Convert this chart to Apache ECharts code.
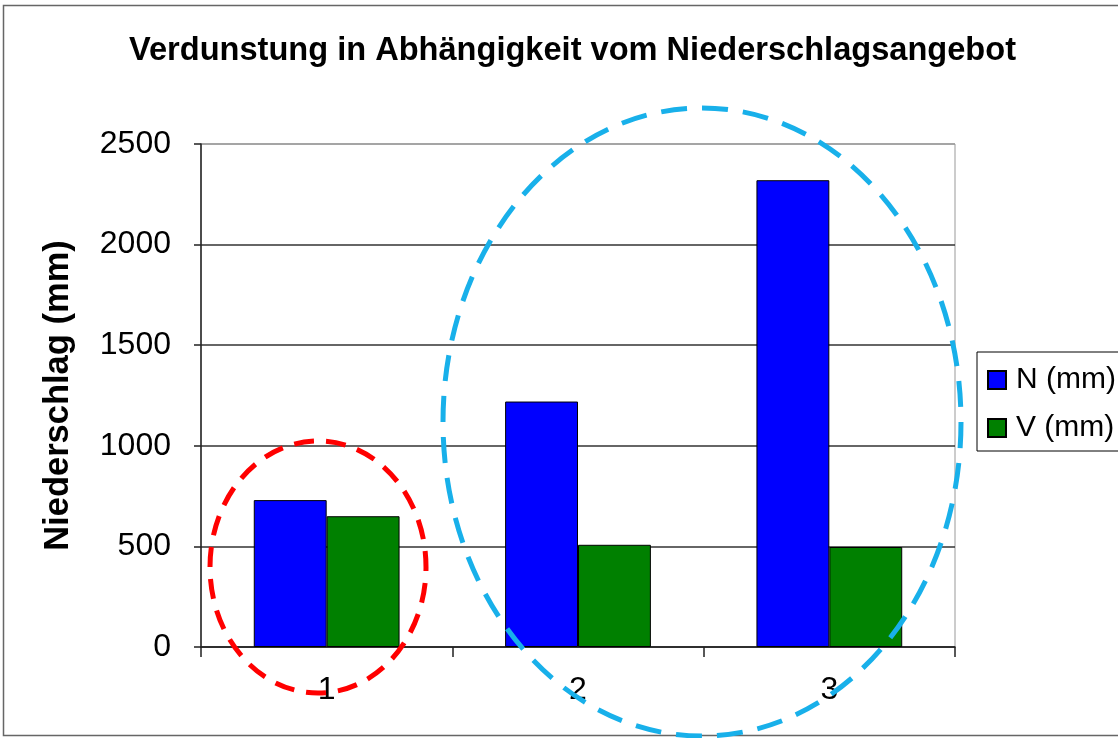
<!DOCTYPE html>
<html>
<head>
<meta charset="utf-8">
<script src="https://cdn.jsdelivr.net/npm/echarts@6/dist/echarts.min.js"></script>
<style>html,body{margin:0;padding:0;background:#fff;}#c{width:1118px;height:738px;}</style>
</head>
<body>
<div id="c"></div>
<script>
var categories = ['1', '2', '3'];
var seriesN = [730, 1220, 2320];
var seriesV = [650, 508, 497];
var seriesNames = ['N (mm)', 'V (mm)'];
var yTicks = { min: 0, max: 2500, interval: 500 };

var FONT = '"Liberation Sans", Arial, sans-serif';
var chart = echarts.init(document.getElementById('c'), null, { renderer: 'canvas' });
chart.setOption({
  animation: false,
  backgroundColor: '#fff',
  title: {
    text: 'Verdunstung in Abhängigkeit vom Niederschlagsangebot',
    left: 124, top: 30,
    textStyle: { fontFamily: FONT, fontSize: 32.6, fontWeight: 'bold', color: '#000' }
  },
  legend: {
    orient: 'vertical', left: 977, top: 352,
    padding: [13, 12, 8, 10],
    borderColor: '#000', borderWidth: 1,
    itemWidth: 18, itemHeight: 18, itemGap: 18, icon: 'rect',
    textStyle: { fontFamily: FONT, fontSize: 30, color: '#000', lineHeight: 24, padding: [0, 0, 0, 5] },
    data: seriesNames
  },
  grid: { left: 201, top: 144, right: 163, bottom: 91, show: true, borderColor: '#999', borderWidth: 1 },
  xAxis: {
    type: 'category', data: categories,
    axisLine: { lineStyle: { color: '#222', width: 1.5 } },
    axisTick: { show: true, alignWithLabel: false, length: 10, lineStyle: { color: '#222', width: 1.5 } },
    axisLabel: { fontFamily: FONT, fontSize: 32, color: '#000', margin: 27 }
  },
  yAxis: {
    type: 'value', min: yTicks.min, max: yTicks.max, interval: yTicks.interval,
    name: 'Niederschlag (mm)', nameLocation: 'middle', nameGap: 125,
    nameTextStyle: { fontFamily: FONT, fontSize: 34.5, fontWeight: 'bold', color: '#000' },
    axisLine: { show: true, lineStyle: { color: '#222', width: 1.5 } },
    axisTick: { show: true, length: 7, lineStyle: { color: '#222', width: 1.5 } },
    axisLabel: { fontFamily: FONT, fontSize: 32, color: '#000', margin: 30,
      formatter: function (v) { return String(v); } },
    splitLine: { show: true, lineStyle: { color: ['#333', '#333', '#333', '#333', '#333', '#999'], width: 1.5 } }
  },
  series: [
    { name: seriesNames[0], type: 'bar', data: seriesN, barGap: '0%', barCategoryGap: '42%',
      itemStyle: { color: '#0000FF', borderColor: '#000', borderWidth: 1 } },
    { name: seriesNames[1], type: 'bar', data: seriesV,
      itemStyle: { color: '#008000', borderColor: '#000', borderWidth: 1 } }
  ],
  graphic: [
    { type: 'rect', silent: true, z: 100, shape: { x: 3.5, y: 5.5, width: 1200, height: 730 },
      style: { fill: 'none', stroke: '#666', lineWidth: 1.5 } },
    { type: 'ellipse', silent: true, z: 100, shape: { cx: 318, cy: 567, rx: 108, ry: 126 },
      style: { fill: 'none', stroke: '#FF0000', lineWidth: 5, lineDash: [20, 12] } },
    { type: 'ellipse', silent: true, z: 100, shape: { cx: 702, cy: 422, rx: 259, ry: 314 },
      style: { fill: 'none', stroke: '#18B0EA', lineWidth: 5, lineDash: [26, 15] } }
  ]
});
</script>
</body>
</html>
